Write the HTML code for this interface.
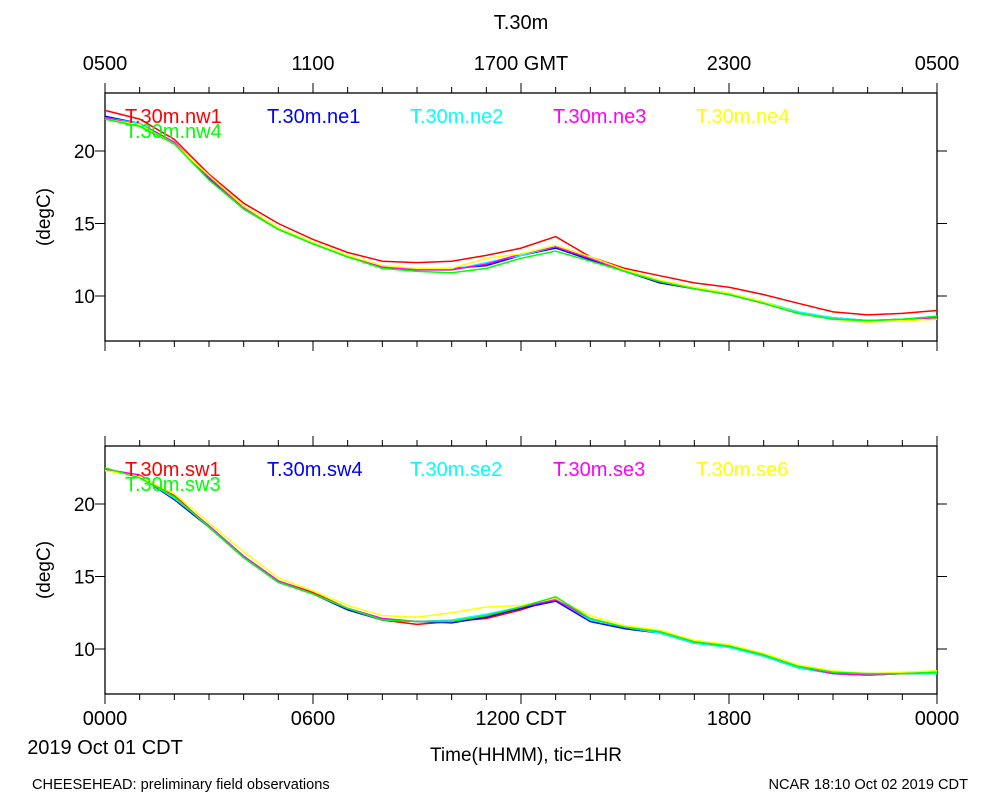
<!DOCTYPE html>
<html><head><meta charset="utf-8"><style>
body{margin:0;background:#fff;font-family:"Liberation Sans",sans-serif}
svg text{font-family:"Liberation Sans",sans-serif}
</style></head><body>
<svg id="chart" width="1000" height="800" xmlns="http://www.w3.org/2000/svg">
<rect width="1000" height="800" fill="#fff"/>
</svg>
<script>
const hours=[0,1,2,3,4,5,6,7,8,9,10,11,12,13,14,15,16,17,18,19,20,21,22,23,24];
const topNames=["T.30m.nw1","T.30m.ne1","T.30m.ne2","T.30m.ne3","T.30m.ne4","T.30m.nw4"];
const topColors=["#ff0000","#0000ff","#00ffff","#ff00ff","#ffff00","#00ff00"];
const nw1=[22.8,22.2,20.8,18.4,16.4,15.0,13.9,13.0,12.4,12.3,12.4,12.8,13.3,14.1,12.7,11.9,11.4,10.9,10.6,10.1,9.5,8.9,8.7,8.8,9.0];
const ne1=[22.4,21.9,20.6,18.1,16.0,14.6,13.6,12.7,12.0,11.8,11.9,12.1,12.8,13.3,12.5,11.7,10.9,10.5,10.1,9.5,8.8,8.5,8.3,8.4,8.5];
const ne2=[22.3,21.9,20.5,18.2,16.1,14.7,13.7,12.7,12.0,11.8,11.8,12.3,12.8,13.4,12.7,11.7,11.0,10.6,10.2,9.6,8.9,8.5,8.3,8.4,8.6];
const ne3=[22.3,21.8,20.6,18.2,16.1,14.7,13.6,12.7,12.0,11.8,11.8,12.2,12.9,13.4,12.6,11.7,11.0,10.5,10.1,9.5,8.8,8.4,8.3,8.3,8.5];
const ne4=[22.2,21.8,20.5,18.3,16.2,14.7,13.7,12.8,12.1,11.9,11.9,12.6,12.9,13.5,12.7,11.8,11.1,10.6,10.2,9.6,8.8,8.4,8.2,8.3,8.4];
const nw4=[22.2,21.7,20.5,18.0,16.0,14.6,13.6,12.7,11.9,11.7,11.6,11.9,12.6,13.1,12.4,11.7,11.0,10.5,10.1,9.5,8.8,8.4,8.3,8.4,8.6];
const botNames=["T.30m.sw1","T.30m.sw4","T.30m.se2","T.30m.se3","T.30m.se6","T.30m.sw3"];
const botColors=["#ff0000","#0000ff","#00ffff","#ff00ff","#ffff00","#00ff00"];
const sw1=[22.4,21.9,20.6,18.4,16.4,14.7,13.9,12.8,12.0,11.7,11.9,12.1,12.7,13.5,12.0,11.5,11.2,10.5,10.2,9.6,8.8,8.4,8.3,8.3,8.4];
const sw4=[22.4,21.9,20.3,18.4,16.3,14.6,13.8,12.7,12.0,11.9,11.8,12.2,12.8,13.3,11.9,11.4,11.1,10.4,10.2,9.5,8.7,8.3,8.2,8.3,8.3];
const se2=[22.4,21.9,20.4,18.5,16.4,14.7,13.8,12.8,12.1,11.9,12.0,12.4,12.9,13.5,12.0,11.5,11.1,10.4,10.1,9.5,8.7,8.3,8.2,8.3,8.3];
const se3=[22.4,22.0,20.5,18.5,16.4,14.7,13.8,12.8,12.1,11.9,11.9,12.3,12.9,13.4,12.1,11.5,11.2,10.5,10.2,9.6,8.8,8.3,8.2,8.3,8.4];
const se6=[22.3,21.9,20.7,18.7,16.7,14.9,14.0,13.0,12.3,12.2,12.5,12.9,13.0,13.5,12.3,11.6,11.3,10.6,10.3,9.7,8.9,8.5,8.3,8.4,8.5];
const sw3=[22.5,21.8,20.5,18.4,16.3,14.6,13.8,12.8,12.0,11.9,11.9,12.3,12.9,13.6,12.1,11.5,11.2,10.5,10.2,9.6,8.8,8.4,8.3,8.3,8.4];
const yTicks=[10,15,20];
const botTickLabels=["0000","0600","1200 CDT","1800","0000"];
const topTickLabels=["0500","1100","1700 GMT","2300","0500"];

const svg=document.getElementById('chart');
const NS="http://www.w3.org/2000/svg";
function mk(tag,attrs,parent){const e=document.createElementNS(NS,tag);for(const k in attrs)e.setAttribute(k,attrs[k]);(parent||svg).appendChild(e);return e;}
const X0=105,X1=937;
function xs(h){return X0+(X1-X0)*h/24;}
function panel(top,bottomY,series,names,colors,label){
  const g=mk('g',{});
  
  
  const ys=v=>bottomY-(v-10)*14.5;
  const yTop=top, yBot=top+248;
  mk('rect',{x:X0,y:yTop,width:X1-X0,height:248,fill:'none',stroke:'#000','stroke-width':1.3},g);
  for(let h=0;h<=24;h++){const x=xs(h);const L=h%6==0?10:6;
    mk('line',{x1:x,y1:yBot,x2:x,y2:yBot+L,stroke:'#000'},g);
    mk('line',{x1:x,y1:yTop,x2:x,y2:yTop-L,stroke:'#000'},g);}
  yTicks.forEach(t=>{const y=ys(t);
    mk('line',{x1:X0,y1:y,x2:X0-10,y2:y,stroke:'#000'},g);
    mk('line',{x1:X1,y1:y,x2:X1+10,y2:y,stroke:'#000'},g);
    const tx=mk('text',{x:X0-10,y:y+7,'text-anchor':'end','font-size':19},g);tx.textContent=t;
    });
  const yl=mk('text',{x:50,y:yTop+124,'text-anchor':'middle','font-size':19,transform:`rotate(-90 50 ${yTop+124})`},g);
  yl.textContent='(degC)';
  series.forEach((s,i)=>{
    const d=s.map((v,j)=>(j?'L':'M')+xs(hours[j]).toFixed(1)+','+ys(v).toFixed(1)).join('');
    const p=mk('path',{d:d,fill:'none',stroke:colors[i],'stroke-width':1.5},g);
    
    
  });
  const lx=[125,267,410,553,696,125], ly=[yTop+30,yTop+30,yTop+30,yTop+30,yTop+30,yTop+45];
  names.forEach((n,i)=>{const t=mk('text',{x:lx[i],y:ly[i],fill:colors[i],'font-size':20},g);t.textContent=n;
    });
}
panel(93,296,[nw1,ne1,ne2,ne3,ne4,nw4],topNames,topColors,'top-panel');
panel(446,649,[sw1,sw4,se2,se3,se6,sw3],botNames,botColors,'bottom-panel');
function txt(x,y,s,size,anchor,name){const t=mk('text',{x:x,y:y,'font-size':size,'text-anchor':anchor});t.textContent=s;
  }
topTickLabels.forEach((s,i)=>txt(xs(i*6),70,s,20,'middle','top-x-tick-label'));
botTickLabels.forEach((s,i)=>txt(xs(i*6),725,s,20,'middle','bottom-x-tick-label'));
txt(521,29,'T.30m',20,'middle','chart-title');
txt(105,754,'2019 Oct 01 CDT',20,'middle','date-label');
txt(526,761,'Time(HHMM), tic=1HR',19,'middle','x-axis-title');
txt(32,789,'CHEESEHEAD: preliminary field observations',14.6,'start','footer-left');
txt(968,789,'NCAR 18:10 Oct 02 2019 CDT',14.6,'end','footer-right');
</script>
</body></html>
